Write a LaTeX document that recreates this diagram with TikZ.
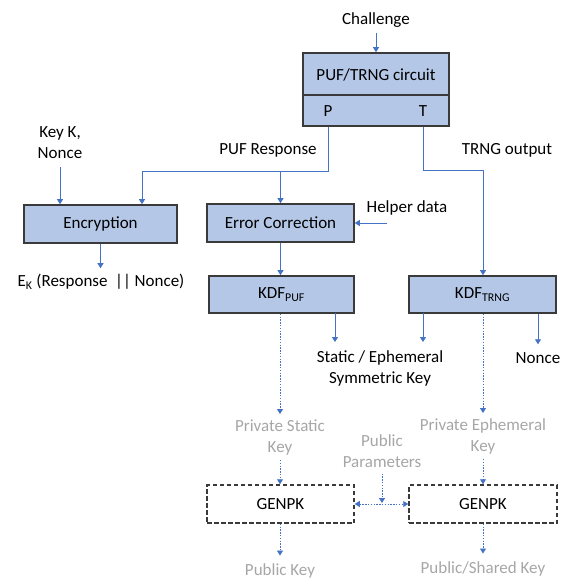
\documentclass[tikz,border=0pt]{standalone}
\usepackage{fontspec}
\setmainfont{Carlito}
\usetikzlibrary{arrows.meta}
\definecolor{boxfill}{HTML}{B4C7E7}
\definecolor{boxline}{HTML}{3A3A3A}
\definecolor{flow}{HTML}{4472C4}
\definecolor{muted}{HTML}{A6A6A6}
\tikzset{
  txt/.style={font=\fontsize{17}{21}\selectfont, text=black, inner sep=2pt, align=center},
  faint/.style={txt, text=muted},
  block/.style={draw=boxline, fill=boxfill, line width=1.6pt, inner sep=0pt,
                font=\fontsize{17}{21}\selectfont},
  genbox/.style={draw=boxline, dashed, dash pattern=on 4.5pt off 2.5pt, line width=1.5pt,
                 inner sep=0pt, font=\fontsize{17}{21}\selectfont},
  arr/.style={draw=flow, line width=0.9pt, -{Triangle[width=6pt,length=5pt]}},
  dotarr/.style={arr, dash pattern=on 1.4pt off 1.4pt},
  dotboth/.style={dotarr, {Triangle[width=6pt,length=5pt]}-{Triangle[width=6pt,length=5pt]}},
}
\begin{document}
\begin{tikzpicture}[x=1pt,y=-1pt]
\useasboundingbox (0,0) rectangle (568,581);

% PUF/TRNG circuit with its two output ports
\node[txt] (chal) at (376,20) {Challenge};
\node[block, minimum width=146, minimum height=73] (puf) at (376,89.5) {};
\draw[boxline, line width=1.6pt] ([yshift=-5.5pt]puf.west) -- ([yshift=-5.5pt]puf.east);
\node[txt] (puft) at (376,75) {PUF/TRNG circuit};
\node[txt] (pP) at (328,111) {P};
\node[txt] (pT) at (423,111) {T};

% processing blocks
\node[block, minimum width=153, minimum height=38] (enc) at (100.5,224) {Encryption};
\node[block, minimum width=147, minimum height=38] (ec) at (280.5,223) {Error Correction};
\node[block, minimum width=145, minimum height=37] (kdfp) at (281.5,294.5) {KDF\textsubscript{PUF}};
\node[block, minimum width=147, minimum height=37] (kdft) at (482.5,294.5) {KDF\textsubscript{TRNG}};
\node[genbox, minimum width=147, minimum height=38] (gl) at (280.5,504) {GENPK};
\node[genbox, minimum width=148, minimum height=38] (gr) at (483,504) {GENPK};

% labels
\node[txt] (keyk) at (60,143) {Key K,\\Nonce};
\node[txt] (pufresp) at (268,150) {PUF Response};
\node[txt] (trngout) at (507,150) {TRNG output};
\node[txt] (helper) at (407,208) {Helper data};
\node[txt] (ek) at (101,282) {E\textsubscript{K} (Response~~|| Nonce)};
\node[txt] (sek) at (380,368) {Static / Ephemeral\\Symmetric Key};
\node[txt] (nonce) at (538,358) {Nonce};
\node[faint] (pskey) at (280,437) {Private Static\\Key};
\node[faint] (pekey) at (483,436) {Private Ephemeral\\Key};
\node[faint] (pubpar) at (382,451) {Public\\Parameters};
\node[faint] (pubkey) at (280,571) {Public Key};
\node[faint] (pubsh) at (483,569) {Public/Shared Key};

% junction points of the routed lines
\coordinate (pbus) at (142,171);
\coordinate (tbus) at (483,170);
\coordinate (hdin) at (387,223);
\coordinate (symA) at (335,313);
\coordinate (symB) at (423,313);

% solid flows
\draw[arr, shorten <=3pt] (chal.south) -- (puf.north);
\draw[arr] (pP |- puf.south) |- (pbus) -- (pbus |- enc.north);
\draw[arr] (ec.north |- pbus) -- (ec.north);
\draw[arr, shorten <=6pt] (keyk.south) -- (enc.north -| keyk.south);
\draw[arr, shorten >=4pt] (enc.south) -- (enc.south |- ek.north);
\draw[arr] (hdin) -- (hdin -| ec.east);
\draw[arr] (ec.south) -- (ec.south |- kdfp.north);
\draw[arr] (pT |- puf.south) |- (tbus) -- (tbus |- kdft.north);
\draw[arr, shorten >=6pt] (symA) -- (symA |- sek.north);
\draw[arr, shorten >=6pt] (symB) -- (symB |- sek.north);
\draw[arr, shorten >=6pt] (kdft.south -| nonce) -- (nonce.north);

% dotted flows towards the public-key generation
\draw[dotarr, shorten >=3pt] (kdfp.south -| pskey) -- (pskey.north);
\draw[dotarr, shorten <=3pt] (pskey.south) -- (gl.north -| pskey);
\draw[dotarr, shorten >=6pt] (gl.south -| pubkey) -- (pubkey.north);
\draw[dotarr, shorten >=3pt] (kdft.south -| pekey) -- (pekey.north);
\draw[dotarr, shorten <=3pt] (pekey.south) -- (gr.north -| pekey);
\draw[dotarr, shorten >=6pt] (gr.south -| pubsh) -- (pubsh.north);
\draw[dotboth] (gl.east) -- (gr.west);
\draw[dotarr, shorten <=4pt, shorten >=1pt] (pubpar.south) -- (pubpar.south |- gl.east);
\end{tikzpicture}
\end{document}
